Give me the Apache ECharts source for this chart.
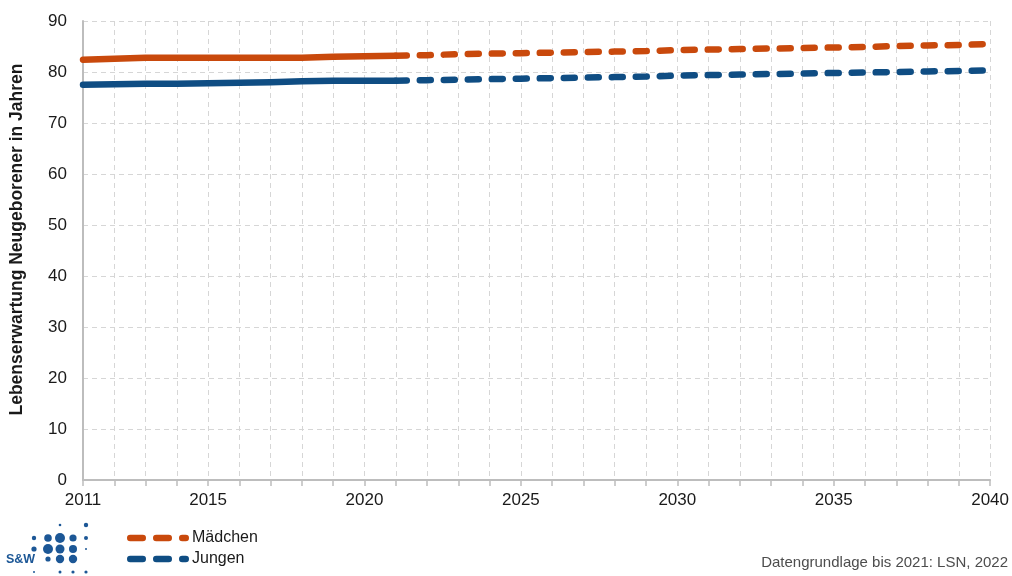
<!DOCTYPE html>
<html>
<head>
<meta charset="utf-8">
<script src="https://cdn.jsdelivr.net/npm/echarts@6/dist/echarts.min.js"></script>
<style>
  html, body { margin: 0; padding: 0; background: #fff; }
  #chart { width: 1012px; height: 576px; }
</style>
</head>
<body>
<div id="chart"></div>
<script>
// Lebenserwartung Neugeborener: Ist-Werte bis 2021, Prognose bis 2040
const istJahre = [2011, 2012, 2013, 2014, 2015, 2016, 2017, 2018, 2019, 2020, 2021];
const maedchenIst = [82.4, 82.6, 82.8, 82.8, 82.8, 82.8, 82.8, 82.8, 83.0, 83.1, 83.2];
const jungenIst   = [77.5, 77.6, 77.7, 77.7, 77.8, 77.9, 78.0, 78.2, 78.3, 78.3, 78.3];

const progJahre = [2021, 2022, 2023, 2024, 2025, 2026, 2027, 2028, 2029, 2030,
                   2031, 2032, 2033, 2034, 2035, 2036, 2037, 2038, 2039, 2040];
const maedchenProg = [83.2, 83.3, 83.5, 83.6, 83.7, 83.8, 83.9, 84.0, 84.1, 84.3,
                      84.4, 84.5, 84.6, 84.7, 84.8, 84.9, 85.1, 85.2, 85.3, 85.5];
const jungenProg   = [78.3, 78.4, 78.5, 78.6, 78.7, 78.8, 78.9, 79.0, 79.1, 79.3,
                      79.4, 79.5, 79.6, 79.7, 79.8, 79.9, 80.0, 80.1, 80.2, 80.3];

const xLabelJahre = [2011, 2015, 2020, 2025, 2030, 2035, 2040];
const yTicks = [0, 10, 20, 30, 40, 50, 60, 70, 80, 90];

const ORANGE = '#c9490c';
const BLUE = '#0f4d83';
const FONT = '"Liberation Sans Narrow", "Arial Narrow", "Liberation Sans", sans-serif';

const pairs = (xs, ys) => xs.map((x, i) => [x, ys[i]]);

const dashed = (color) => ({
  color: color,
  width: 6.5,
  type: [11, 13],
  cap: 'round'
});
const solid = (color) => ({
  color: color,
  width: 6.5,
  type: 'solid',
  cap: 'round',
  join: 'round'
});

// Legendensymbol: drei abgerundete Striche
const dashIcon = 'path://' +
  'M3.25 0L15.75 0A3.25 3.25 0 0 1 15.75 6.5L3.25 6.5A3.25 3.25 0 0 1 3.25 0Z' +
  'M29.25 0L41.75 0A3.25 3.25 0 0 1 41.75 6.5L29.25 6.5A3.25 3.25 0 0 1 29.25 0Z' +
  'M55.25 0L58.75 0A3.25 3.25 0 0 1 58.75 6.5L55.25 6.5A3.25 3.25 0 0 1 55.25 0Z';

// S&W-Logo aus Punkten
const logoDots = [
  [60, 525, 1.3], [86, 525, 2.2],
  [34, 538, 2.2], [48, 538, 3.8], [60, 538, 5], [73, 538, 3.6], [86, 538, 2],
  [34, 549, 2.6], [48, 549, 5], [60, 549, 4.5], [73, 549, 4], [86, 549, 1],
  [48, 559, 2.6], [60, 559, 4.2], [73, 559, 4.2],
  [34, 572, 1], [60, 572, 1.5], [73, 572, 1.6], [86, 572, 1.6]
];

const chart = echarts.init(document.getElementById('chart'));
chart.setOption({
  animation: false,
  backgroundColor: '#ffffff',
  grid: { left: 83, right: 21, top: 21, bottom: 96, containLabel: false },
  xAxis: {
    type: 'value',
    min: 2011,
    max: 2040,
    interval: 1,
    axisLine: { show: true, lineStyle: { color: '#bdbdbd', width: 2 } },
    axisTick: { show: true, inside: false, length: 6, lineStyle: { color: '#bdbdbd', width: 1.5 } },
    axisLabel: {
      show: true,
      margin: 12,
      fontFamily: FONT,
      fontSize: 17,
      color: '#1a1a1a',
      formatter: (v) => xLabelJahre.includes(v) ? String(v) : ''
    },
    splitLine: { show: true, lineStyle: { color: '#d6d6d6', type: [5, 4], width: 1 } }
  },
  yAxis: {
    type: 'value',
    min: 0,
    max: 90,
    interval: 10,
    name: 'Lebenserwartung Neugeborener in Jahren',
    nameLocation: 'middle',
    nameGap: 57,
    nameTextStyle: {
      fontFamily: FONT,
      fontSize: 17.5,
      fontWeight: 'bold',
      color: '#1a1a1a',
      padding: [0, 0, 0, 22]
    },
    axisLine: { show: true, lineStyle: { color: '#bdbdbd', width: 2 } },
    axisTick: { show: false },
    axisLabel: {
      margin: 16,
      fontFamily: FONT,
      fontSize: 17,
      color: '#1a1a1a',
      formatter: (v) => yTicks.includes(v) ? String(v) : ''
    },
    splitLine: { show: true, lineStyle: { color: '#d6d6d6', type: [5, 4], width: 1 } }
  },
  legend: {
    orient: 'vertical',
    left: 127,
    top: 530,
    icon: dashIcon,
    itemWidth: 62,
    itemHeight: 6.5,
    itemGap: 5,
    padding: 0,
    data: ['Mädchen', 'Jungen'],
    textStyle: { fontFamily: FONT, fontSize: 16, lineHeight: 16, color: '#1a1a1a', padding: [0, 0, 0, -2] }
  },
  series: [
    {
      name: 'Mädchen',
      type: 'line',
      data: pairs(progJahre, maedchenProg),
      showSymbol: false,
      symbol: 'none',
      lineStyle: dashed(ORANGE),
      itemStyle: { color: ORANGE },
      z: 3
    },
    {
      name: 'Jungen',
      type: 'line',
      data: pairs(progJahre, jungenProg),
      showSymbol: false,
      symbol: 'none',
      lineStyle: dashed(BLUE),
      itemStyle: { color: BLUE },
      z: 3
    },
    {
      name: 'Mädchen (Ist)',
      type: 'line',
      data: pairs(istJahre, maedchenIst),
      showSymbol: false,
      symbol: 'none',
      lineStyle: solid(ORANGE),
      itemStyle: { color: ORANGE },
      z: 4
    },
    {
      name: 'Jungen (Ist)',
      type: 'line',
      data: pairs(istJahre, jungenIst),
      showSymbol: false,
      symbol: 'none',
      lineStyle: solid(BLUE),
      itemStyle: { color: BLUE },
      z: 4
    }
  ],
  graphic: [
    {
      type: 'text',
      right: 4,
      top: 555,
      style: {
        text: 'Datengrundlage bis 2021: LSN, 2022',
        fontFamily: FONT,
        fontSize: 15,
        fill: '#4d4d4d'
      }
    },
    {
      type: 'text',
      left: 6,
      top: 553,
      style: {
        text: 'S&W',
        fontFamily: '"Liberation Sans", sans-serif',
        fontSize: 12.5,
        fontWeight: 'bold',
        fill: '#1c5796'
      }
    }
  ].concat(logoDots.map(([cx, cy, r]) => ({
    type: 'circle',
    shape: { cx: cx, cy: cy, r: r },
    style: { fill: '#1c5796' }
  })))
});
</script>
</body>
</html>
